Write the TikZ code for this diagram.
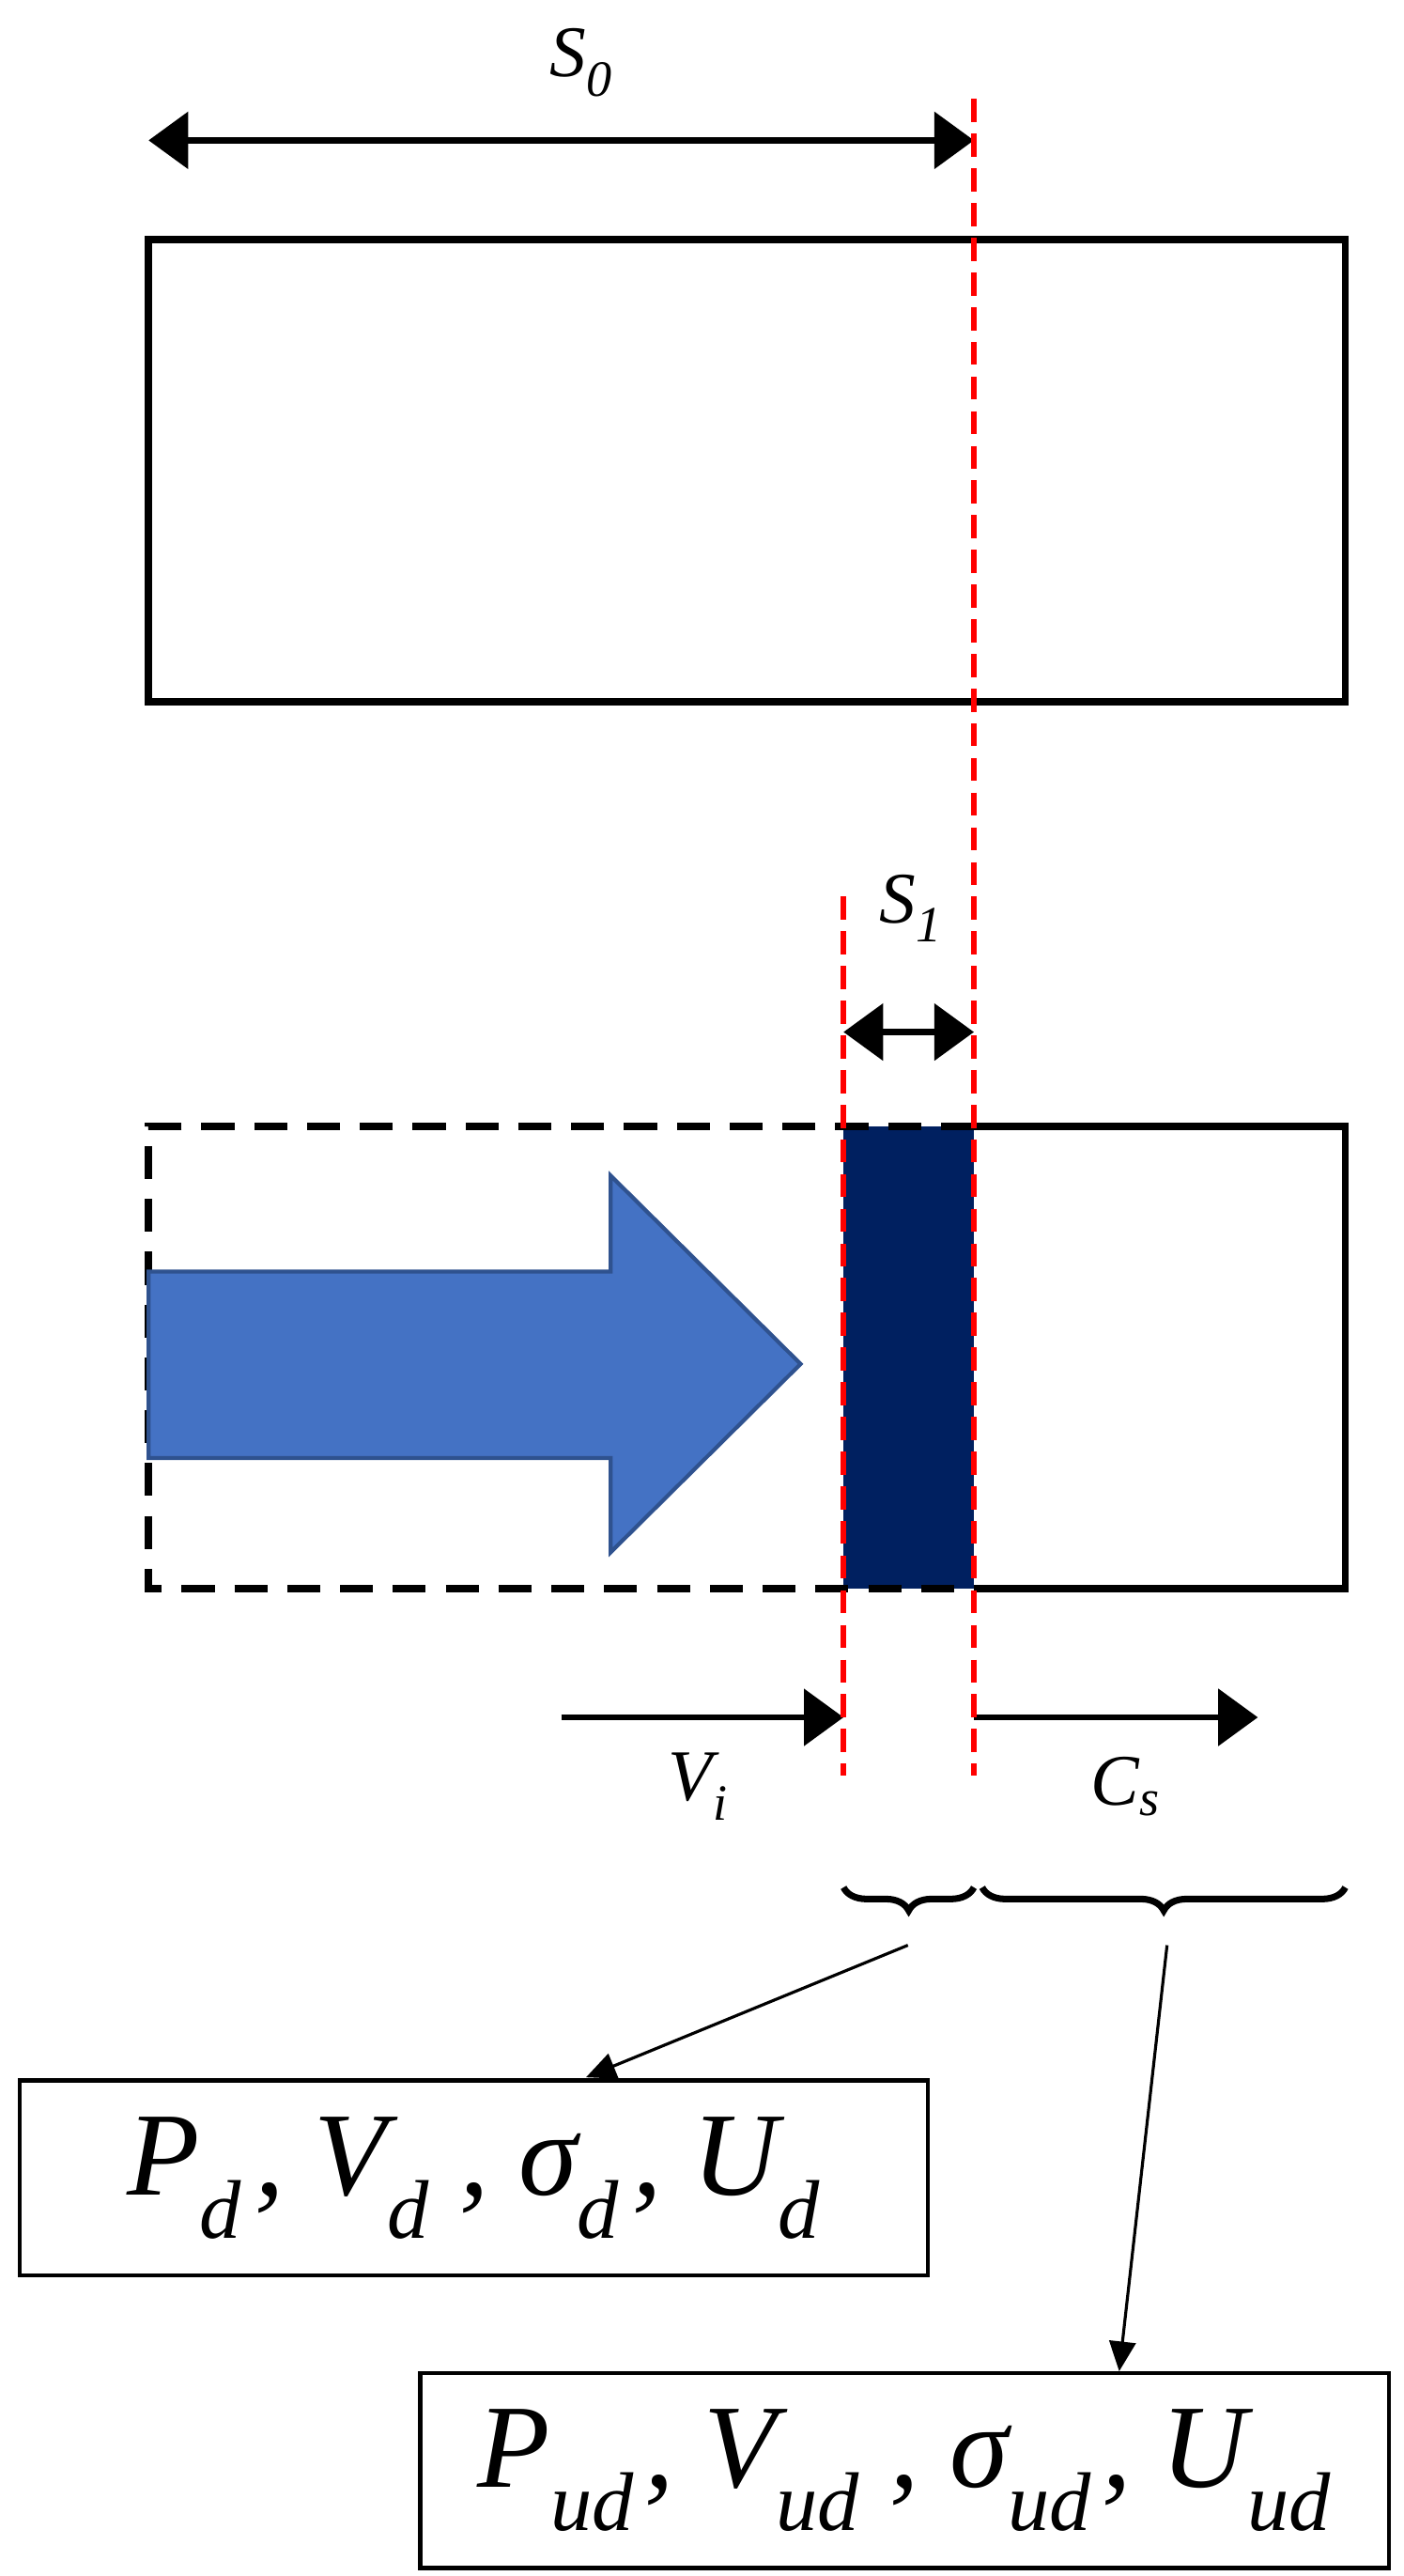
\documentclass[tikz,border=0pt]{standalone}
\usepackage{fontspec}
\setmainfont{Liberation Serif}
\usetikzlibrary{decorations.pathreplacing,arrows.meta}
\definecolor{navy}{HTML}{002060}
\definecolor{blu}{HTML}{4472C4}
\definecolor{blub}{HTML}{2F528F}
\begin{document}
\begin{tikzpicture}[x=1pt,y=-1pt,
  blk/.style={line width=4.4pt,black},
  reddash/.style={draw=red,line width=3.2pt,dash pattern=on 14pt off 7pt},
  big/.style={-{Triangle[length=24pt,width=34pt]},line width=3.6pt},
  dbl/.style={{Triangle[length=24pt,width=34pt]}-{Triangle[length=24pt,width=34pt]},line width=3.6pt},
  lbl/.style={font=\fontsize{44}{52}\selectfont\itshape},
  val/.style={draw,line width=2.6pt,minimum height=118pt,font=\fontsize{72}{84}\selectfont\itshape},
  thin/.style={-{Triangle[length=18pt,width=16pt]},line width=1.8pt}]
\useasboundingbox (0,0) rectangle (850,1560);
\draw[blk] (90,145) rectangle (815,425);
\fill[navy] (511,682) rectangle (590,962);
\draw[blk,dash pattern=on 20pt off 12pt] (590,682) -- (90,682) -- (90,962) -- (590,962);
\draw[blk] (590,682) -- (815,682) -- (815,962) -- (590,962);
\draw[fill=blu,draw=blub,line width=2.4pt] (90,770) -- (370,770) -- (370,712) -- (485,826) -- (370,940) -- (370,883) -- (90,883) -- cycle;
\coordinate (a) at (90,85); \coordinate (b) at (590,85);
\draw[dbl] (a) -- (b);
\node[lbl] (s0) at (352,38) {S\textsubscript{0}};
\coordinate (c) at (511,625); \coordinate (d) at (590,625);
\draw[dbl] (c) -- (d);
\node[lbl] (s1) at (552,550) {S\textsubscript{1}};
\coordinate (vi0) at (340,1040); \coordinate (vi1) at (511,1040);
\draw[big] (vi0) -- (vi1);
\coordinate (cs0) at (590,1040); \coordinate (cs1) at (762,1040);
\draw[big] (cs0) -- (cs1);
\node[lbl] (vi) at (423,1082) {V\textsubscript{\itshape i}};
\node[lbl] (cs) at (682,1082) {C\textsubscript{\itshape s}};
\draw[reddash] (590,60) -- (590,1075);
\draw[reddash] (511,543) -- (511,1075);
\draw[line width=4pt,decorate,decoration={brace,mirror,amplitude=14pt}] (511,1143) -- (590,1143);
\draw[line width=4pt,decorate,decoration={brace,mirror,amplitude=14pt}] (595,1143) -- (815,1143);
\coordinate (t1) at (550,1178); \coordinate (t2) at (707,1178);
\node[val,minimum width=550pt] (b1) at (287,1319) {P\textsubscript{d}\kern8pt, V\textsubscript{d} , \textit{σ}\textsubscript{d}\kern8pt, U\textsubscript{d}};
\node[val,minimum width=587pt] (b2) at (548,1496) {P\textsubscript{ud}\kern6pt, V\textsubscript{ud} , \textit{σ}\textsubscript{ud}\kern6pt, U\textsubscript{ud}};
\draw[thin] (t1) -- (355,1258);
\draw[thin] (t2) -- (678,1436);
\end{tikzpicture}
\end{document}
